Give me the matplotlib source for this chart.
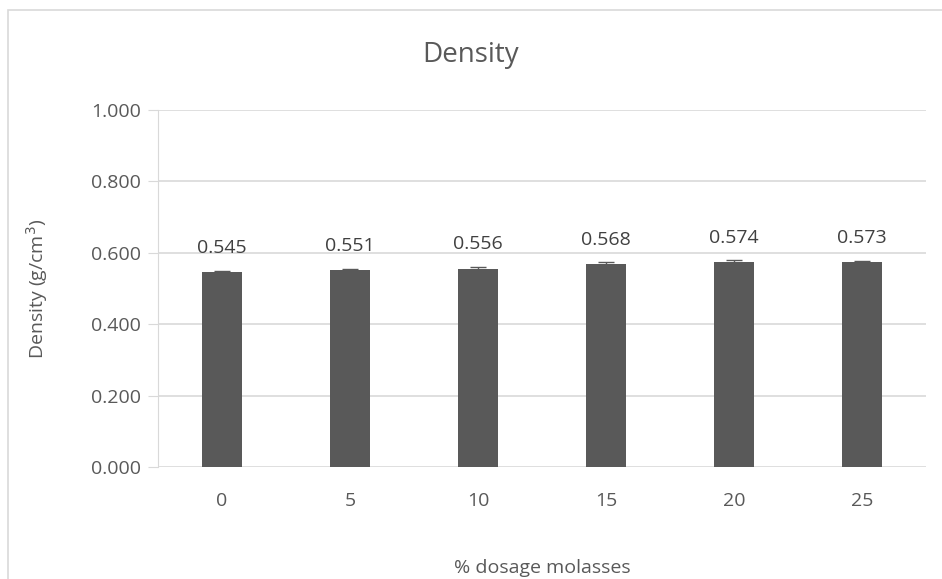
import matplotlib.pyplot as plt
from matplotlib.patches import Rectangle

dosage = ["0", "5", "10", "15", "20", "25"]
density = [0.545, 0.551, 0.556, 0.568, 0.574, 0.573]
err = [0.005, 0.004, 0.005, 0.005, 0.005, 0.005]
labels = ["0.545", "0.551", "0.556", "0.568", "0.574", "0.573"]

plt.rcParams["font.family"] = ["Open Sans", "DejaVu Sans"]
grey = "#595959"

fig = plt.figure(figsize=(9.42, 5.79), dpi=100)
ax = fig.add_axes([158 / 942, 0.1934, 768 / 942, 0.6166])

x = range(len(dosage))
ax.bar(x, density, width=0.31, color=grey, zorder=3,
       yerr=err, error_kw=dict(ecolor=grey, elinewidth=1, capsize=6, capthick=1, zorder=4))
for xi, v, t in zip(x, density, labels):
    ax.annotate(t, (xi, v), xytext=(0, 11), textcoords="offset points",
                ha="center", va="bottom", fontsize=14, color="#404040")

ax.set_ylim(0, 1.0)
ax.set_xlim(-0.5, len(dosage) - 0.5)
ax.set_yticks([0, 0.2, 0.4, 0.6, 0.8, 1.0])
ax.set_yticklabels([f"{v:.3f}" for v in [0, 0.2, 0.4, 0.6, 0.8, 1.0]])
ax.set_xticks(list(x))
ax.set_xticklabels(dosage)
ax.grid(axis="y", color="#d9d9d9", linewidth=1.2, zorder=0)
for s in ["top", "right", "bottom"]:
    ax.spines[s].set_visible(False)
ax.spines["left"].set_color("#d9d9d9")
ax.tick_params(axis="y", length=7, color="#d9d9d9", labelsize=14, labelcolor=grey, pad=5)
ax.tick_params(axis="x", length=0, labelsize=14, labelcolor=grey, pad=18)

ax.set_xlabel("% dosage molasses", fontsize=14, color=grey, labelpad=35)
ax.set_ylabel("Density (g/cm$^3$)", fontsize=14, color=grey, labelpad=30)
fig.text(0.5, 0.905, "Density", ha="center", va="center", fontsize=20, color=grey)

fig.patches.append(Rectangle((8 / 942, -0.05), 1.2, 1 - 10 / 579 + 0.05,
                             transform=fig.transFigure, fill=False,
                             edgecolor="#d9d9d9", linewidth=1.2))

fig.savefig("out.png", dpi=100)
